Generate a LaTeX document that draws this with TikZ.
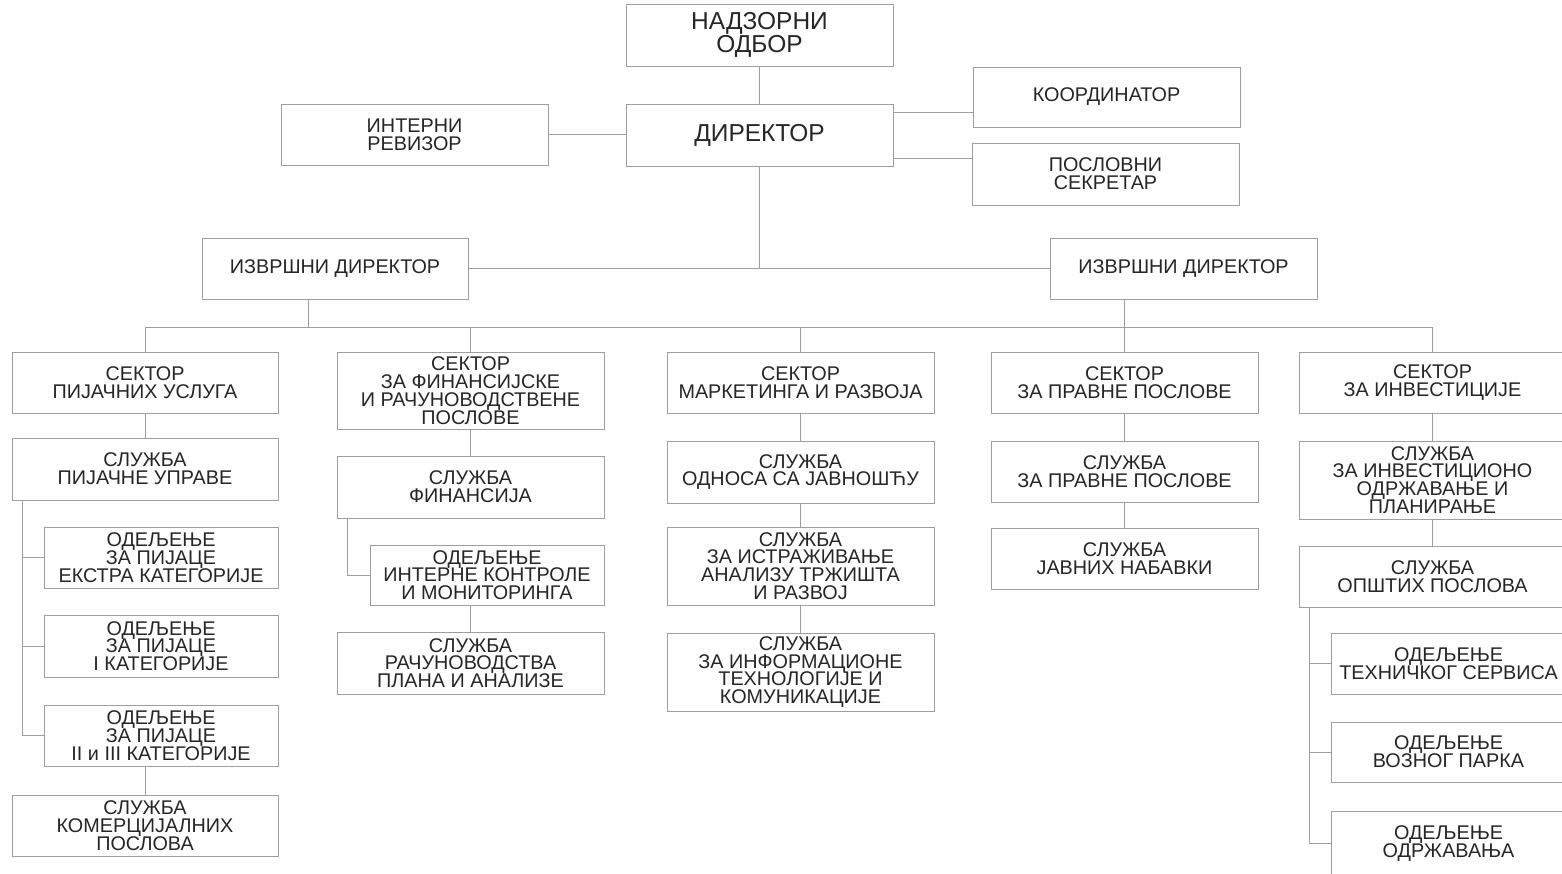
\documentclass[tikz,border=0pt]{standalone}
\usepackage{fontspec}
\setmainfont{Liberation Sans}
\usetikzlibrary{calc}
\newcommand\orgbox[6][]{\node[box,#1,minimum width={(#4-#2)*1pt},minimum height={(#5-#3)*1pt}] (#6) at ({(#2+#4)/2},{(#3+#5)/2})}
\newcommand\boxfont{\fontsize{19.8}{17.8}\selectfont\setlength{\lineskiplimit}{-20pt}}
\newcommand\bigboxfont{\fontsize{24.5}{23.5}\selectfont\setlength{\lineskiplimit}{-20pt}}
\begin{document}
\begin{tikzpicture}[x=1pt,y=-1pt,
  box/.style={draw=black!38, line width=1pt, fill=white, align=center, inner sep=0pt, outer sep=0pt,
    text=black!85, font=\boxfont},
  big/.style={font=\bigboxfont},
  conn/.style={draw=black!38, line width=1pt}]
\useasboundingbox (0,0) rectangle (1562,873);
\fill[white] (0,0) rectangle (1562,873);

% top
\orgbox[big]{626}{4}{893}{66}{nad}{НАДЗОРНИ\\ОДБОР};
\orgbox[big]{626}{104}{893}{166}{dir}{ДИРЕКТОР};
\orgbox{281}{104}{548}{165}{ir}{ИНТЕРНИ\\РЕВИЗОР};
\orgbox{973}{67}{1240}{127}{koord}{КООРДИНАТОР};
\orgbox{972}{143}{1239}{205}{sec}{ПОСЛОВНИ\\СЕКРЕТАР};
\orgbox{202}{238}{468}{299}{izvL}{ИЗВРШНИ ДИРЕКТОР};
\orgbox{1050}{238}{1317}{299}{izvR}{ИЗВРШНИ ДИРЕКТОР};

% column 1
\orgbox{12}{352}{278}{413}{s1}{СЕКТОР\\ПИЈАЧНИХ УСЛУГА};
\orgbox{12}{438}{278}{500}{c1a}{СЛУЖБА\\ПИЈАЧНЕ УПРАВЕ};
\orgbox{44}{527}{278}{588}{c1b}{ОДЕЉЕЊЕ\\ЗА ПИЈАЦЕ\\ЕКСТРА КАТЕГОРИЈЕ};
\orgbox{44}{615}{278}{677}{c1c}{ОДЕЉЕЊЕ\\ЗА ПИЈАЦЕ\\I КАТЕГОРИЈЕ};
\orgbox{44}{705}{278}{766}{c1d}{ОДЕЉЕЊЕ\\ЗА ПИЈАЦЕ\\II и III КАТЕГОРИЈЕ};
\orgbox{12}{795}{278}{856}{c1e}{СЛУЖБА\\КОМЕРЦИЈАЛНИХ\\ПОСЛОВА};

% column 2
\orgbox{337}{352}{604}{429}{s2}{СЕКТОР\\ЗА ФИНАНСИЈСКЕ\\И РАЧУНОВОДСТВЕНЕ\\ПОСЛОВЕ};
\orgbox{337}{456}{604}{518}{c2a}{СЛУЖБА\\ФИНАНСИЈА};
\orgbox{370}{545}{604}{605}{c2b}{ОДЕЉЕЊЕ\\ИНТЕРНЕ КОНТРОЛЕ\\И МОНИТОРИНГА};
\orgbox{337}{632}{604}{694}{c2c}{СЛУЖБА\\РАЧУНОВОДСТВА\\ПЛАНА И АНАЛИЗЕ};

% column 3
\orgbox{667}{352}{934}{413}{s3}{СЕКТОР\\МАРКЕТИНГА И РАЗВОЈА};
\orgbox{667}{441}{934}{503}{c3a}{СЛУЖБА\\ОДНОСА СА ЈАВНОШЋУ};
\orgbox{667}{527}{934}{605}{c3b}{СЛУЖБА\\ЗА ИСТРАЖИВАЊЕ\\АНАЛИЗУ ТРЖИШТА\\И РАЗВОЈ};
\orgbox{667}{633}{934}{711}{c3c}{СЛУЖБА\\ЗА ИНФОРМАЦИОНЕ\\ТЕХНОЛОГИЈЕ И\\КОМУНИКАЦИЈЕ};

% column 4
\orgbox{991}{352}{1258}{413}{s4}{СЕКТОР\\ЗА ПРАВНЕ ПОСЛОВЕ};
\orgbox{991}{441}{1258}{502}{c4a}{СЛУЖБА\\ЗА ПРАВНЕ ПОСЛОВЕ};
\orgbox{991}{528}{1258}{589}{c4b}{СЛУЖБА\\ЈАВНИХ НАБАВКИ};

% column 5
\orgbox{1299}{352}{1566}{413}{s5}{СЕКТОР\\ЗА ИНВЕСТИЦИЈЕ};
\orgbox{1299}{441}{1566}{519}{c5a}{СЛУЖБА\\ЗА ИНВЕСТИЦИОНО\\ОДРЖАВАЊЕ И\\ПЛАНИРАЊЕ};
\orgbox{1299}{546}{1566}{607}{c5b}{СЛУЖБА\\ОПШТИХ ПОСЛОВА};
\orgbox{1331}{633}{1566}{694}{c5c}{ОДЕЉЕЊЕ\\ТЕХНИЧКОГ СЕРВИСА};
\orgbox{1331}{722}{1566}{782}{c5d}{ОДЕЉЕЊЕ\\ВОЗНОГ ПАРКА};
\orgbox{1331}{811}{1566}{876}{c5e}{ОДЕЉЕЊЕ\\ОДРЖАВАЊА};

% connectors: top
\draw[conn] (nad) -- (dir);
\draw[conn] (ir.east) -- (ir.east -| dir.west);
\draw[conn] ([yshift=23pt]dir.east) -- ([yshift=23pt]dir.east -| koord.west);
\draw[conn] ([yshift=-23pt]dir.east) -- ([yshift=-23pt]dir.east -| sec.west);
\draw[conn] (dir.south) -- (dir.south |- izvL.east);
\draw[conn] (izvL) -- (izvR);

% bus
\coordinate (bus) at (0,327);
\coordinate (lx) at ([xshift=-27pt]izvL.south);
\draw[conn] (s1.north) -- (s1.north |- bus) -- (s5.north |- bus) -- (s5.north);
\draw[conn] (lx) -- (lx |- bus);
\draw[conn] (s2.north) -- (s2.north |- bus);
\draw[conn] (s3.north) -- (s3.north |- bus);
\draw[conn] (izvR.south -| s4.north) -- (s4.north);

% column 1
\draw[conn] (s1) -- (c1a);
\coordinate (b1) at ([xshift=10pt]c1a.south west);
\draw[conn] (b1) |- (c1d.west);
\draw[conn] (b1 |- c1b.west) -- (c1b.west);
\draw[conn] (b1 |- c1c.west) -- (c1c.west);
\draw[conn] (c1d.south -| c1e.north) -- (c1e.north);

% column 2
\draw[conn] (s2) -- (c2a);
\coordinate (b2) at ([xshift=10pt]c2a.south west);
\draw[conn] (b2) |- (c2b.west);
\draw[conn] (c2b.south -| c2c.north) -- (c2c.north);

% column 3
\draw[conn] (s3) -- (c3a);
\draw[conn] (c3a) -- (c3b);
\draw[conn] (c3b) -- (c3c);

% column 4
\draw[conn] (s4) -- (c4a);
\draw[conn] (c4a) -- (c4b);

% column 5
\draw[conn] (s5) -- (c5a);
\draw[conn] (c5a) -- (c5b);
\coordinate (b5) at ([xshift=10pt]c5b.south west);
\draw[conn] (b5) |- (c5e.west);
\draw[conn] (b5 |- c5c.west) -- (c5c.west);
\draw[conn] (b5 |- c5d.west) -- (c5d.west);
\end{tikzpicture}
\end{document}
